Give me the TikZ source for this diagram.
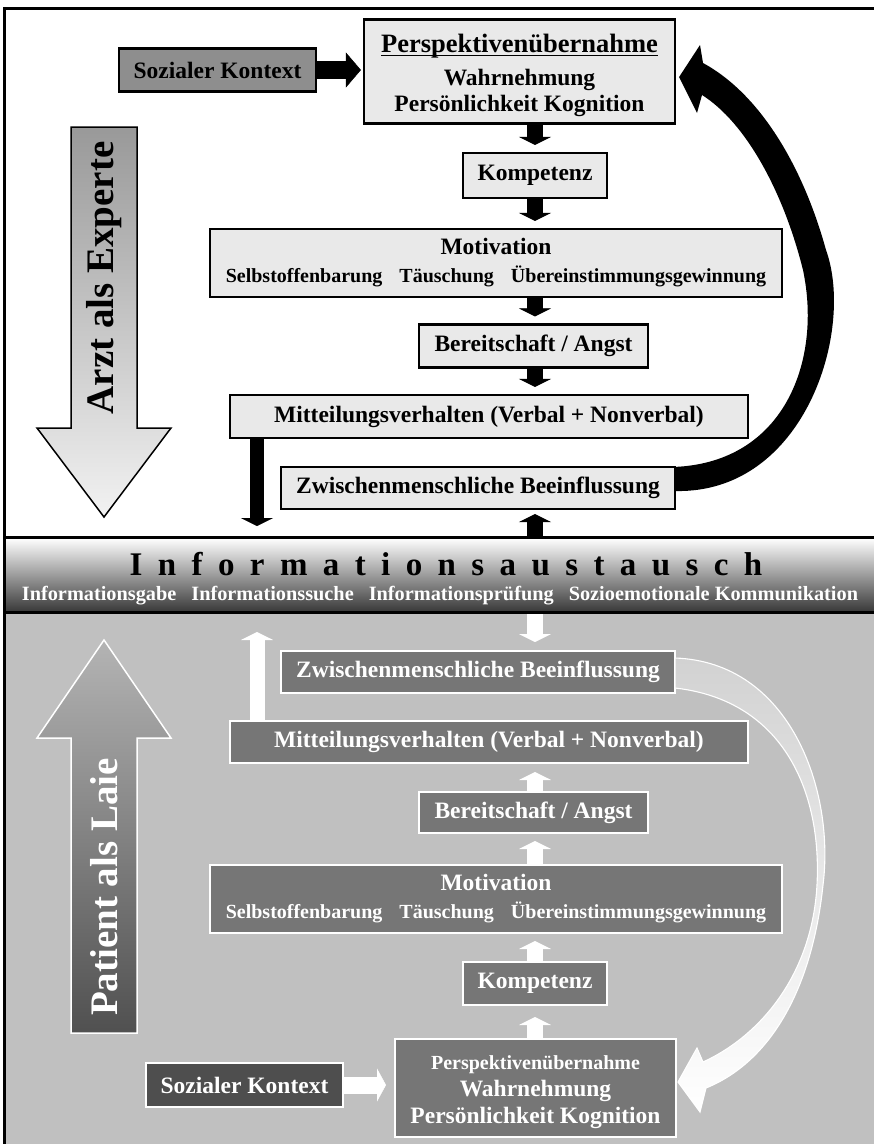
\documentclass[tikz,border=0pt]{standalone}
\usepackage{fontspec}
\setmainfont{Liberation Serif}
\usetikzlibrary{arrows.meta,calc}

\definecolor{paleFill}{HTML}{E9E9E9}
\definecolor{contextUp}{HTML}{8E8E8E}
\definecolor{laieFill}{HTML}{767676}
\definecolor{contextLow}{HTML}{4E4E4E}
\definecolor{laieGround}{HTML}{C0C0C0}
\definecolor{arztTop}{HTML}{999999}
\definecolor{arztBot}{HTML}{F2F2F2}
\definecolor{laieTop}{HTML}{B4B4B4}
\definecolor{laieBot}{HTML}{505050}
\definecolor{bandMid}{HTML}{C4C4C4}
\definecolor{bandBot}{HTML}{383838}
\definecolor{loopFill}{HTML}{D2D2D2}

\newcommand\lsp{\hspace{15.4pt}}
\newcommand\wsp{\hspace{17pt}}
\newcommand\gsp{\hspace{15pt}}
% heavier underline set close to the baseline
\newsavebox\ulbox
\newcommand\heavyul[1]{\sbox\ulbox{#1}\rlap{\rule[-3.4pt]{\wd\ulbox}{1.8pt}}\usebox\ulbox}

\tikzset{
  boxtext/.style={font=\fontsize{23.5}{28}\selectfont\bfseries, align=center, inner sep=0pt},
  expertbox/.style={boxtext, draw=black, line width=2.2pt, fill=paleFill, text=black},
  laybox/.style={boxtext, draw=white, line width=2pt, fill=laieFill, text=white},
  darkflow/.style={draw=black, line width=16pt, -{Triangle[length=8pt,width=32pt,line width=0.4pt]}},
  lightflow/.style={draw=white, line width=16pt, -{Triangle[length=8pt,width=32pt,line width=0.4pt]}},
  bigtitle/.style={font=\fontsize{39}{39}\selectfont\bfseries, inner sep=0pt, rotate=90},
}

\begin{document}
\begin{tikzpicture}[x=1pt,y=-1pt]
\useasboundingbox (0,0) rectangle (874,1144);

% backgrounds of the three zones
\fill[white] (0,0) rectangle (874,1144);
\fill[laieGround] (4,613) rectangle (874,1144);
\path[top color=white, middle color=bandMid, bottom color=bandBot] (4,538) rectangle (874,612);

% band texts
\node[font=\fontsize{33}{33}\selectfont\bfseries, inner sep=0pt] (austausch) at (446,564)
  {I\lsp n\lsp f\lsp o\lsp r\lsp m\lsp a\lsp t\lsp i\lsp o\lsp n\lsp s\lsp a\lsp u\lsp s\lsp t\lsp a\lsp u\lsp s\lsp c\lsp h};
\node[font=\fontsize{20.3}{20.3}\selectfont\bfseries, text=white, inner sep=0pt] (formen) at (440,596)
  {Informationsgabe\gsp Informationssuche\gsp Informationsprüfung\gsp Sozioemotionale Kommunikation};

% large role arrows
\path[draw=black, line width=1.5pt, top color=arztTop, bottom color=arztBot]
  (71,127) -- (137,127) -- (137,428) -- (171,428) -- (104,517) -- (37,428) -- (71,428) -- cycle;
\node[bigtitle] (arzt) at (104,278) {Arzt als Experte};
\path[draw=white, line width=1.5pt, top color=laieTop, bottom color=laieBot]
  (104,640) -- (171,738) -- (137,738) -- (137,1033) -- (71,1033) -- (71,738) -- (37,738) -- cycle;
\node[bigtitle, text=white] (laie) at (104,887) {Patient als Laie};

% upper chain (expert)
\node[expertbox, minimum width=311, minimum height=104, font=\fontsize{23.5}{26}\selectfont\bfseries] (perspT) at (519.5,71.5)
  {\rule{0pt}{27pt}{\fontsize{26.5}{26}\selectfont\heavyul{Perspektivenübernahme}}\\[7pt]Wahrnehmung\\Persönlichkeit Kognition};
\node[expertbox, fill=contextUp, minimum width=197, minimum height=43] (sozT) at (217.5,70) {Sozialer Kontext};
\node[expertbox, minimum width=144, minimum height=45] (kompT) at (535,175.5) {Kompetenz};
\node[expertbox, minimum width=572, minimum height=68] (motT) at (496,263)
  {Motivation\\{\fontsize{20}{24}\selectfont Selbstoffenbarung\wsp Täuschung\wsp Übereinstimmungsgewinnung}};
\node[expertbox, minimum width=229, minimum height=43] (berT) at (533.5,346) {Bereitschaft / Angst};
\node[expertbox, minimum width=518, minimum height=43] (mitT) at (489,416.5) {Mitteilungsverhalten (Verbal + Nonverbal)};
\node[expertbox, minimum width=394, minimum height=42] (zwT) at (478,488) {Zwischenmenschliche Beeinflussung};

% lower chain (lay person)
\node[laybox, minimum width=394, minimum height=42] (zwB) at (478,672) {Zwischenmenschliche Beeinflussung};
\node[laybox, minimum width=518, minimum height=42] (mitB) at (489,742) {Mitteilungsverhalten (Verbal + Nonverbal)};
\node[laybox, minimum width=229, minimum height=41] (berB) at (533.5,812.5) {Bereitschaft / Angst};
\node[laybox, minimum width=572, minimum height=68] (motB) at (496,899)
  {Motivation\\{\fontsize{20}{24}\selectfont Selbstoffenbarung\wsp Täuschung\wsp Übereinstimmungsgewinnung}};
\node[laybox, minimum width=144, minimum height=43] (kompB) at (535,983.5) {Kompetenz};
\node[laybox, minimum width=281, minimum height=98, font=\fontsize{23.5}{27}\selectfont\bfseries] (perspB) at (535.5,1088)
  {\rule{0pt}{22pt}{\fontsize{20}{27}\selectfont Perspektivenübernahme}\\Wahrnehmung\\Persönlichkeit Kognition};
\node[laybox, fill=contextLow, minimum width=197, minimum height=44] (sozB) at (244.5,1085) {Sozialer Kontext};

% reference points for the straight flows
\coordinate (col) at (535,0);
\coordinate (mitDrop) at (257,526);
\coordinate (bandTop) at (535,537);
\coordinate (bandBot) at (535,614);
\coordinate (mitRise) at (257,632);

% upper flows
\draw[darkflow, line width=18pt, -{Triangle[length=15pt,width=35pt,line width=0.4pt]}, shorten >=2pt]
  (sozT.east) -- (perspT.west |- sozT.east);
\draw[darkflow, shorten >=7pt] (perspT.south -| col) -- (kompT.north -| col);
\draw[darkflow, shorten >=7pt] (kompT.south -| col) -- (motT.north -| col);
\draw[darkflow, shorten >=7pt] (motT.south -| col) -- (berT.north -| col);
\draw[darkflow, shorten >=7pt] (berT.south -| col) -- (mitT.north -| col);
\draw[darkflow, line width=14pt] (mitT.south -| mitDrop) -- (mitDrop);
\draw[darkflow, shorten >=4pt] (bandTop) -- (zwT.south -| bandTop);

% lower flows
\draw[lightflow, shorten >=8pt] (bandBot) -- (zwB.north -| bandBot);
\draw[lightflow, line width=15pt] (mitB.north -| mitRise) -- (mitRise);
\draw[lightflow, shorten >=8pt] (berB.north -| col) -- (mitB.south -| col);
\draw[lightflow, shorten >=7pt] (motB.north -| col) -- (berB.south -| col);
\draw[lightflow, shorten >=7pt] (kompB.north -| col) -- (motB.south -| col);
\draw[lightflow, shorten >=11pt] (perspB.north -| col) -- (kompB.south -| col);
\draw[lightflow, line width=17pt, -{Triangle[length=9pt,width=33pt,line width=0.4pt]}, shorten >=8pt]
  (sozB.east) -- (perspB.west |- sozB.east);

% feedback loop of the expert
\fill[black] ($(zwT.east)+(-1,3)$) .. controls (805,494) and (855,330) .. (826,250)
  .. controls (804,170) and (762,95) .. (703,63) -- (700,45) -- ($(perspT.east)+(3,5.5)$)
  -- (697,113) -- (702,95) .. controls (745,122) and (783,190) .. (803,270)
  .. controls (822,360) and (785,462) .. ($(zwT.north east)+(-1,1)$) -- cycle;

% feedback loop of the lay person
\path[draw=white, line width=1.1pt, top color=loopFill, bottom color=white]
  ($(zwB.north east)+(-1,8)$) .. controls (790,662) and (835,790) .. (823,885)
  .. controls (812,990) and (770,1062) .. (706,1088) -- (700,1112) -- ($(perspB.east)+(1,-6)$)
  -- (697,1048) -- (703,1062) .. controls (760,1036) and (812,975) .. (817,885)
  .. controls (822,790) and (782,700) .. ($(zwB.south east)+(-1,-6)$) -- cycle;

% frame lines
\draw[black, line width=3pt] (3,8.5) -- (874,8.5);
\draw[black, line width=3pt] (4.5,7) -- (4.5,1144);
\draw[black, line width=3pt] (3,537.5) -- (874,537.5);
\draw[black, line width=3pt] (3,612.5) -- (874,612.5);
\end{tikzpicture}
\end{document}
